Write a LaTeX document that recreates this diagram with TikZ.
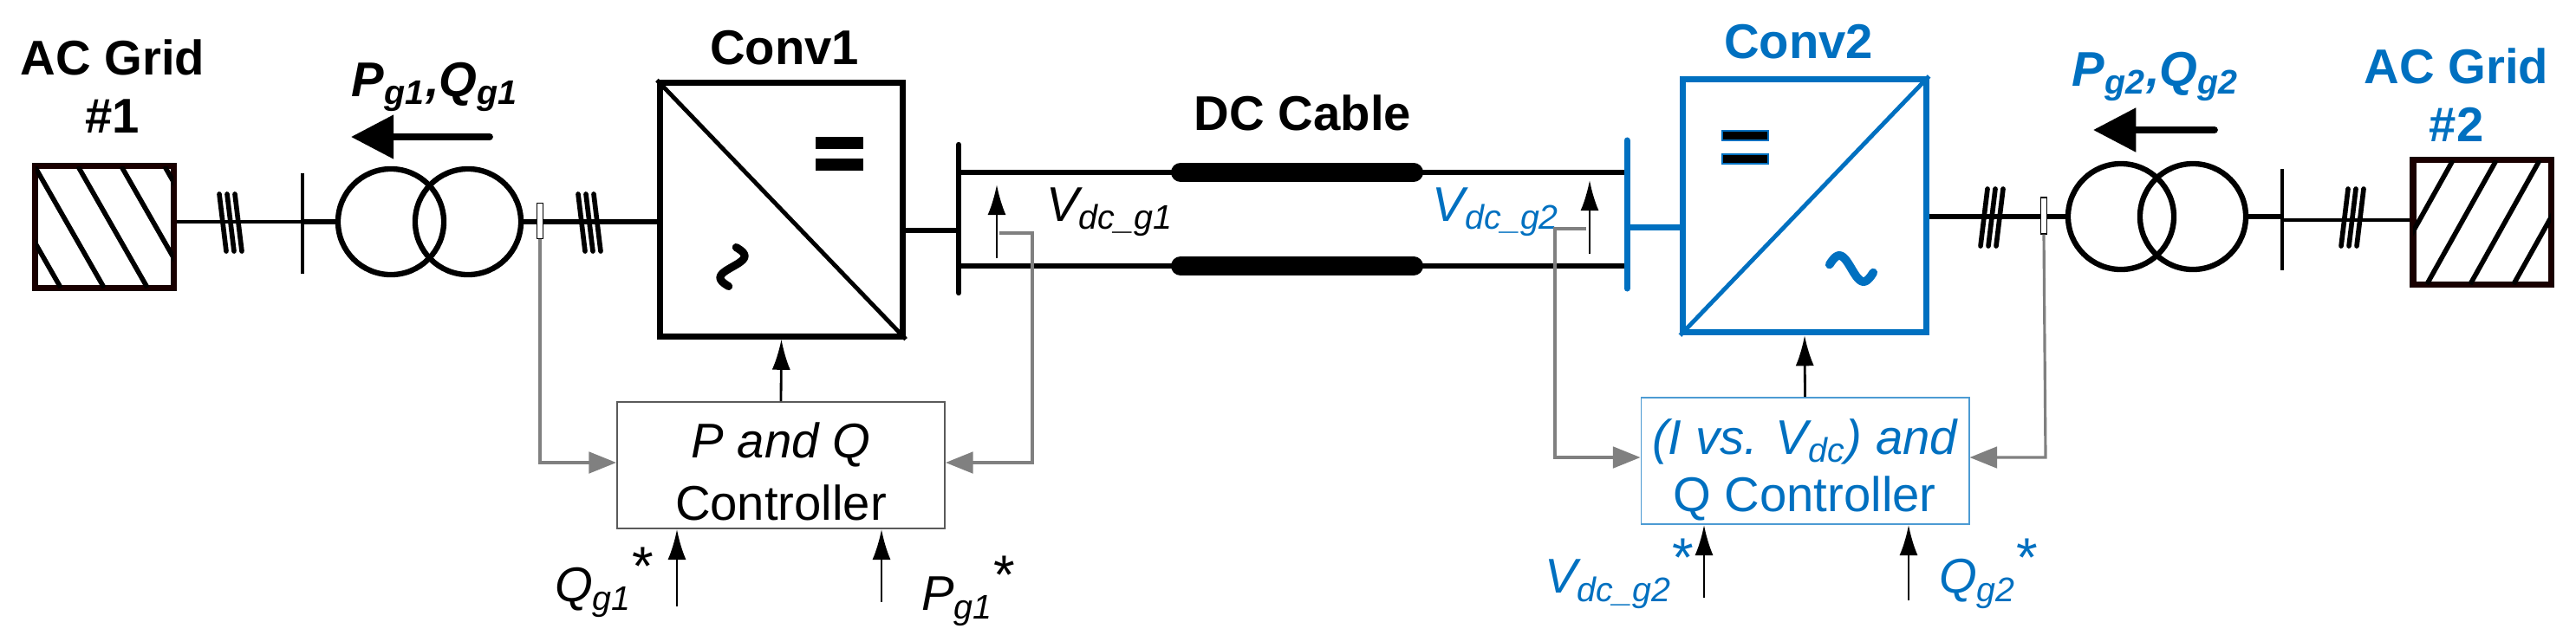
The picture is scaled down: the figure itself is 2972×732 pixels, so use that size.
\documentclass[tikz,border=0pt]{standalone}
\usepackage{fontspec}
\setmainfont{Liberation Sans}
\usetikzlibrary{arrows.meta}
\definecolor{cblue}{HTML}{0070C0}
\definecolor{cgray}{HTML}{808080}
\newcommand{\myast}{\raisebox{0.35em}{\upshape\fontsize{18}{18}\selectfont*}}
\begin{document}
\begin{tikzpicture}[x=0.01cm,y=-0.01cm,
  lbl/.style={font=\fontsize{16}{19}\selectfont\bfseries,align=center},
  txt/.style={font=\fontsize{16}{19}\selectfont,align=center},
  thick line/.style={line width=1.7pt},
  conv/.style={draw,line width=2pt,minimum width=2.8cm,minimum height=2.92cm,inner sep=0},
  ctrl/.style={draw,line width=0.5pt,minimum width=3.78cm,minimum height=1.46cm,inner sep=0},
  sig/.style={-{Latex[length=10pt,width=6pt]},line width=0.8pt},
  fb/.style={-{Triangle[length=9pt,width=7pt]},cgray,line width=0.9pt},
  slash/.style={line width=1.6pt,line cap=round}]
\useasboundingbox (0,0) rectangle (2972,732);
% ---------- Grid 1 ----------
\node[draw,line width=2pt,minimum width=1.59cm,minimum height=1.40cm,inner sep=0,color=black!90!red] (g1) at (120.5,262) {};
\begin{scope}\clip (41,192) rectangle (200,332);
\foreach \k in {-160,-110,...,240} \draw[line width=1.6pt] (\k,192) -- (\k+80,332);
\end{scope}
\node[lbl] (g1t) at (130,100) {AC Grid\\\#1};
\coordinate (b1t) at (349,200); \coordinate (b1b) at (349,316);
\draw[line width=1.2pt] (b1t) -- (b1b);
\draw[line width=1.3pt] (g1.east|-0,256) -- (349,256);
\foreach \d in {-9,0,9} \draw[slash] (262+\d,224) -- (270+\d,290);
\node[draw,line width=1.8pt,circle,minimum size=1.22cm,inner sep=0] (t1a) at (451,256) {};
\node[draw,line width=1.8pt,circle,minimum size=1.22cm,inner sep=0] (t1b) at (540,256) {};
\draw[thick line] (349,256) -- (t1a.west);
\draw[thick line] (t1b.east) -- (761,256);
\node[draw,fill=white,line width=0.4pt,minimum width=0.07cm,minimum height=0.41cm,inner sep=0] (ct1) at (623,255) {};
\foreach \d in {-9,0,9} \draw[slash] (676+\d,224) -- (684+\d,290);
\node[lbl,font=\fontsize{16}{19}\selectfont\bfseries\itshape] (pq1) at (502,100) {P\textsubscript{g1},Q\textsubscript{g1}};
\coordinate (a1s) at (565,158); \coordinate (a1e) at (405,158);
\draw[-{Triangle[length=14pt,width=14pt]},line width=2.2pt,line cap=round] (a1s) -- (a1e);
% ---------- Conv1 ----------
\node[conv] (c1) at (901.5,242) {};
\draw[line width=1.4pt] (c1.north west) -- (c1.south east);
\fill (941,158) rectangle (996,172); \fill (941,183) rectangle (996,197);
\draw[line width=2.6pt,line cap=round] plot[domain=0.05:0.95,samples=40,smooth] ({845+14*sin(360*\x)},{283+50*\x});
\node[lbl] (c1t) at (905,55) {Conv1};
% DC side
\coordinate (bl1) at (1106,167); \coordinate (bl2) at (1106,338);
\draw[line width=1.8pt,line cap=round] (bl1) -- (bl2);
\draw[thick line] (c1.east|-0,266) -- (1106,266);
\coordinate (br1) at (1877,162); \coordinate (br2) at (1877,333);
\draw[thick line] (1106,199) -- (br1|-0,199);
\draw[thick line] (1106,307) -- (br1|-0,307);
\draw[line width=0.22cm,line cap=round] (1362,199) -- (1631,199);
\draw[line width=0.22cm,line cap=round] (1362,307) -- (1631,307);
\node[lbl] (dct) at (1503,130) {DC Cable};
\draw[sig] (1150,298) -- (1150,213);
\node[txt,font=\fontsize{16}{19}\selectfont\itshape,anchor=west] (v1) at (1195,245) {V\textsubscript{dc\_g1}};
\draw[sig] (1834,293) -- (1834,208);
\node[txt,font=\fontsize{16}{19}\selectfont\itshape,anchor=east,text=cblue] (v2) at (1812,245) {V\textsubscript{dc\_g2}};
% ---------- Conv2 ----------
\draw[line width=2pt,cblue,line cap=round] (br1) -- (br2);
\node[conv,draw=cblue] (c2) at (2082,237.5) {};
\draw[line width=2pt,cblue] (br1|-0,262) -- (c2.west|-0,262);
\draw[line width=1.4pt,cblue] (c2.south west) -- (c2.north east);
\fill[cblue] (1986,150) rectangle (2041,163); \fill[black] (1988,152) rectangle (2039,161);
\fill[cblue] (1986,177) rectangle (2041,190); \fill[black] (1988,179) rectangle (2039,188);
\draw[line width=2.8pt,cblue,line cap=round] plot[domain=0.05:0.95,samples=40,smooth] ({2108+56*\x},{310-15*sin(360*\x)});
\node[lbl,text=cblue] (c2t) at (2075,48) {Conv2};
% ---------- Grid 2 ----------
\node[draw,line width=1.8pt,circle,minimum size=1.22cm,inner sep=0] (t2a) at (2447,250) {};
\node[draw,line width=1.8pt,circle,minimum size=1.22cm,inner sep=0] (t2b) at (2530,250) {};
\draw[thick line] (c2.east|-0,250) -- (t2a.west);
\foreach \d in {-9,0,9} \draw[slash] (2302+\d,218) -- (2294+\d,284);
\node[draw,fill=white,line width=0.4pt,minimum width=0.07cm,minimum height=0.42cm,inner sep=0] (ct2) at (2358,249) {};
\coordinate (b2t) at (2633,195); \coordinate (b2b) at (2633,312);
\draw[thick line] (t2b.east) -- (2633,250);
\draw[line width=1.2pt] (b2t) -- (b2b);
\node[draw,line width=2pt,minimum width=1.59cm,minimum height=1.43cm,inner sep=0,color=black!90!red] (g2) at (2863.5,256.5) {};
\draw[line width=1.3pt] (2633,254) -- (g2.west|-0,254);
\foreach \d in {-9,0,9} \draw[slash] (2718+\d,218) -- (2710+\d,284);
\begin{scope}\clip (2784,185) rectangle (2943,328);
\foreach \k in {2700,2750,...,3050} \draw[line width=1.6pt] (\k+80,185) -- (\k,328);
\end{scope}
\node[lbl,text=cblue] (g2t) at (2834,110) {AC Grid\\\#2};
\node[lbl,font=\fontsize{16}{19}\selectfont\bfseries\itshape,text=cblue] (pq2) at (2487,88) {P\textsubscript{g2},Q\textsubscript{g2}};
\coordinate (a2s) at (2555,150); \coordinate (a2e) at (2415,150);
\draw[-{Triangle[length=14pt,width=14pt]},line width=2.2pt,line cap=round] (a2s) -- (a2e);
% ---------- Controllers ----------
\node[ctrl,draw=cgray!70!black] (k1) at (901,537) {};
\node[txt] at (901,513) {\itshape P and Q};
\node[txt] at (901,580) {Controller};
\draw[sig] (k1.north) -- (c1.south);
\node[ctrl,draw=cblue!70] (k2) at (2082.5,532) {};
\node[txt,text=cblue] at (2082,510) {\itshape (I vs. V\textsubscript{dc}) and};
\node[txt,text=cblue] at (2082,575) {Q Controller};
\draw[sig] (k2.north) -- (c2.south);
% feedback
\draw[fb] (ct1.south) -- (623,534) -- (k1.west|-0,534);
\draw[fb] (1153,269) -- (1191,269) -- (1191,534) -- (k1.east|-0,534);
\draw[fb] (1830,264) -- (1794,264) -- (1794,528) -- (k2.west|-0,528);
\draw[fb] (ct2.south) -- (2360,528) -- (k2.east|-0,528);
% inputs
\coordinate (q1) at (781,700); \coordinate (p1) at (1017,695);
\draw[sig] (q1) -- (k1.south-|q1);
\draw[sig] (p1) -- (k1.south-|p1);
\node[txt,font=\fontsize{16}{19}\selectfont\itshape] at (697,672) {Q\textsubscript{g1}\myast};
\node[txt,font=\fontsize{16}{19}\selectfont\itshape] at (1117,682) {P\textsubscript{g1}\myast};
\coordinate (v2i) at (1966,690); \coordinate (q2i) at (2202,693);
\draw[sig] (v2i) -- (k2.south-|v2i);
\draw[sig] (q2i) -- (k2.south-|q2i);
\node[txt,font=\fontsize{16}{19}\selectfont\itshape,text=cblue] at (1868,662) {V\textsubscript{dc\_g2}\myast};
\node[txt,font=\fontsize{16}{19}\selectfont\itshape,text=cblue] at (2294,662) {Q\textsubscript{g2}\myast};
\end{tikzpicture}
\end{document}
